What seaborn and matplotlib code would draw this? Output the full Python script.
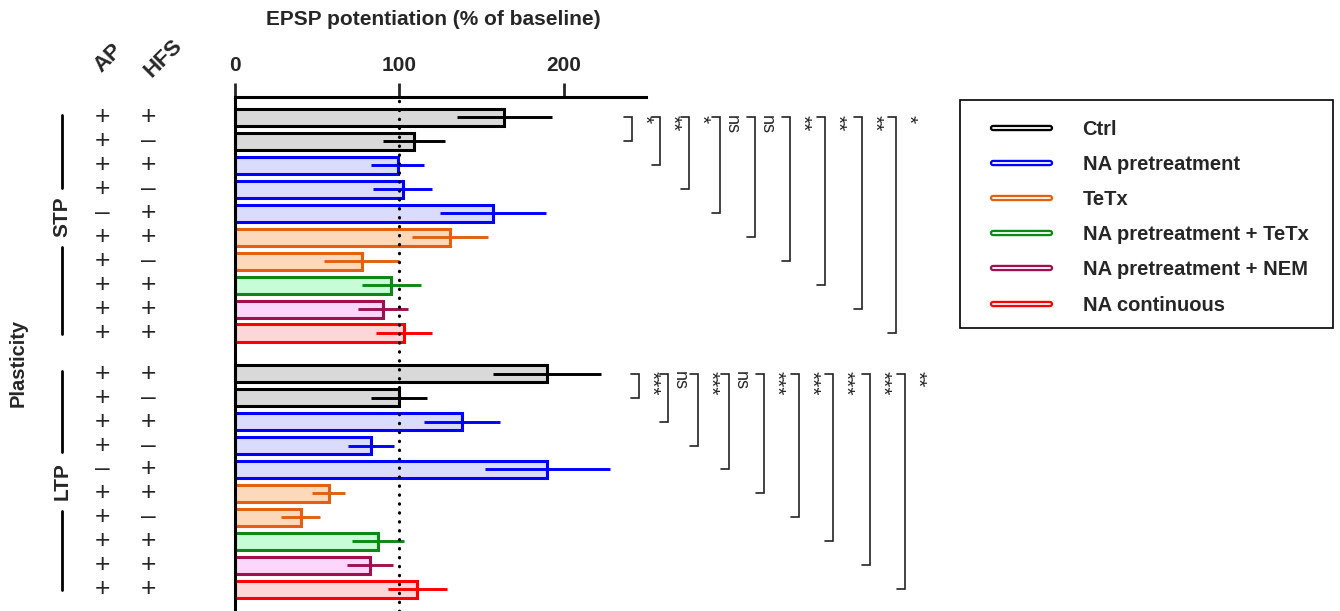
import numpy as np
import pandas as pd
import matplotlib
matplotlib.use("Agg")
import matplotlib.pyplot as plt
import matplotlib.patheffects as pe
from matplotlib.lines import Line2D
from matplotlib.patches import Rectangle
from matplotlib.transforms import blended_transform_factory
import seaborn as sns

# ---- data ----
groups = ["Ctrl", "Ctrl", "NA pretreatment", "NA pretreatment", "NA pretreatment",
          "TeTx", "TeTx", "NA pretreatment + TeTx", "NA pretreatment + NEM", "NA continuous"]
ap = ["+", "+", "+", "+", "–", "+", "+", "+", "+", "+"]
hfs = ["+", "–", "+", "–", "+", "+", "–", "+", "+", "+"]

stp_mean = [164, 109, 99, 102, 157, 131, 77, 95, 90, 103]
stp_sem = [29, 19, 16, 18, 32, 23, 23, 18, 15, 17]
ltp_mean = [190, 100, 138, 83, 190, 57, 40, 87, 82, 111]
ltp_sem = [33, 17, 23, 14, 38, 10, 12, 16, 14, 18]

stp_sig = ["*", "**", "*", "ns", "ns", "**", "**", "**", "*"]
ltp_sig = ["***", "ns", "***", "ns", "***", "***", "***", "***", "**"]

legend_names = ["Ctrl", "NA pretreatment", "TeTx", "NA pretreatment + TeTx",
                "NA pretreatment + NEM", "NA continuous"]
edge_colors = ["#000000", "#0000ff", "#e2600e", "#0a8a14", "#a0104e", "#ff0000"]
fill_colors = ["#d9d9d9", "#d9dcfd", "#fdd9bc", "#c6fcd6", "#fdd6fb", "#fdd6da"]

# ---- layout ----
ltp_offset = 10.7
stp_pos = np.arange(10, dtype=float)
ltp_pos = stp_pos + ltp_offset

df = pd.DataFrame({
    "pos": np.concatenate([stp_pos, ltp_pos]),
    "value": stp_mean + ltp_mean,
    "sem": stp_sem + ltp_sem,
    "group": groups + groups,
})
edge_map = dict(zip(legend_names, edge_colors))
fill_map = dict(zip(legend_names, fill_colors))

sns.set_style("white")
plt.rcParams["font.family"] = ["Liberation Sans", "DejaVu Sans"]
plt.rcParams["font.weight"] = "bold"

fig = plt.figure(figsize=(13.4, 6.11), dpi=100)
ax = fig.add_axes([235 / 1340, 0.0, 250 * 1.643 / 1340, 1 - 97 / 611])

sns.barplot(data=df, x="value", y="pos", hue="group", palette=fill_map,
            orient="y", native_scale=True, width=0.71, saturation=1,
            errorbar=None, legend=False, ax=ax)

for p in ax.patches:
    yc = p.get_y() + p.get_height() / 2
    i = int(np.argmin(np.abs(df["pos"].values - yc)))
    p.set_edgecolor(edge_map[df["group"].iloc[i]])
    p.set_linewidth(2.2)
    p.set_zorder(2)

ax.hlines(df["pos"], df["value"] - df["sem"], df["value"] + df["sem"],
          colors=[edge_map[g] for g in df["group"]], linewidth=2.1, zorder=3)
ax.axvline(100, color="black", linestyle=(0, (0.1, 2.7)), linewidth=2.3,
           dash_capstyle="round", zorder=4)

ax.set_xlim(0, 250)
ax.set_ylim(20.61, -0.856)
ax.xaxis.tick_top()
ax.xaxis.set_label_position("top")
ax.set_xticks([0, 100, 200])
ax.set_yticks([])
ax.set_ylabel("")
ax.set_xlabel("EPSP potentiation (% of baseline)", fontsize=15,
              fontweight="bold", labelpad=22)
ax.xaxis.label.set_x(0.483)
ax.tick_params(axis="x", direction="out", length=10, width=2, pad=6,
               labelsize=15, top=True, bottom=False)
for side in ["right", "bottom"]:
    ax.spines[side].set_visible(False)
for side in ["top", "left"]:
    ax.spines[side].set_linewidth(2.2)
    ax.spines[side].set_color("black")

# ---- significance brackets ----
stp_bx = [241.6, 258.7, 276.3, 295.2, 316.5, 337.8, 359.1, 381.6, 402.3]
ltp_bx = [245.9, 263.5, 281.8, 300.7, 322.0, 343.3, 364.0, 386.5, 407.8]
for pos, bxs, sig in [(stp_pos, stp_bx, stp_sig), (ltp_pos, ltp_bx, ltp_sig)]:
    for k, (bx, s) in enumerate(zip(bxs, sig), start=1):
        top, bot = pos[0], pos[k]
        ax.plot([bx - 5, bx, bx, bx - 5], [top, top, bot, bot], color="#222222",
                linewidth=1.2, clip_on=False, solid_joinstyle="miter")
        ax.text(bx + 1.8, top - 0.1, s, rotation=-90, ha="left", va="top",
                fontsize=13 if s == "ns" else 15, fontweight="normal",
                clip_on=False)

# ---- left-hand condition table ----
tr = blended_transform_factory(fig.transFigure, ax.transData)
for pos in [stp_pos, ltp_pos]:
    for y, a, h in zip(pos, ap, hfs):
        ax.text(102 / 1340, y, a, transform=tr, ha="center", va="center",
                fontsize=19, fontweight="normal")
        ax.text(148 / 1340, y, h, transform=tr, ha="center", va="center",
                fontsize=19, fontweight="normal")

fig.text(109 / 1340, 1 - 58 / 611, "AP", rotation=45, ha="center", va="center",
         fontsize=16, fontweight="bold")
fig.text(163 / 1340, 1 - 58 / 611, "HFS", rotation=45, ha="center", va="center",
         fontsize=16, fontweight="bold")

for name, pos, tc in [("STP", stp_pos, 4.16), ("LTP", ltp_pos, ltp_offset + 4.48)]:
    lx = 62 / 1340
    ax.plot([lx, lx], [pos[0] - 0.1, tc - 1.22], transform=tr, color="black",
            linewidth=2, clip_on=False)
    ax.plot([lx, lx], [tc + 1.24, pos[-1] + 0.05], transform=tr, color="black",
            linewidth=2, clip_on=False)
    ax.text(lx, tc, name, transform=tr, rotation=90, ha="center", va="center",
            fontsize=15, fontweight="bold")

fig.text(18 / 1340, 1 - 363 / 611, "Plasticity", rotation=90, ha="center",
         va="center", fontsize=14.5, fontweight="bold")

# ---- legend ----
handles = []
for name, ec in zip(legend_names, edge_colors):
    h = Line2D([], [], color="white", linewidth=1.3,
               path_effects=[pe.Stroke(linewidth=4.6, foreground=ec), pe.Normal()])
    handles.append(h)
leg = fig.legend(handles, legend_names, loc="upper left",
                 bbox_to_anchor=(993 / 1340, 1 - 120 / 611), frameon=False,
                 fontsize=14.5, handlelength=2.85, handletextpad=1.6,
                 labelspacing=0.8, borderpad=0, borderaxespad=0)
for t in leg.get_texts():
    t.set_fontweight("bold")
fig.patches.append(Rectangle((960 / 1340, 1 - 328 / 611), 373 / 1340, 228 / 611,
                             transform=fig.transFigure, fill=False,
                             edgecolor="black", linewidth=1.2))

fig.savefig("out.png", dpi=100)
